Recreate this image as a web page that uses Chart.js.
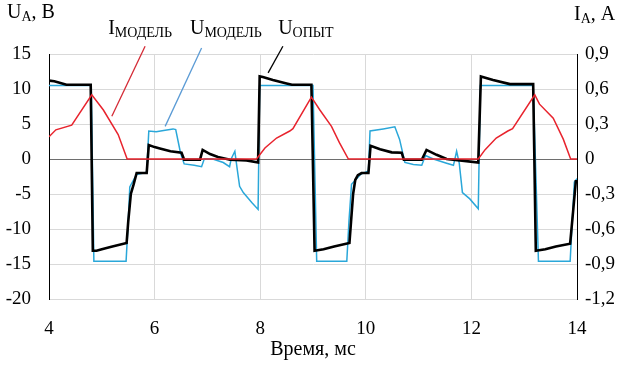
<!DOCTYPE html>
<html>
<head>
<meta charset="utf-8">
<script src="https://cdn.jsdelivr.net/npm/chart.js@4"></script>
<style>
  html, body { margin: 0; padding: 0; background: #fff; }
  #wrap { width: 624px; height: 371px; }
</style>
</head>
<body>
<div id="wrap"><canvas id="chart" width="624" height="371"></canvas></div>
<script>
// Время, мс и напряжение/ток
var tOpyt = [4.0, 4.1, 4.2, 4.33, 4.79, 4.83, 4.9, 5.0, 5.2, 5.47, 5.5, 5.55, 5.6, 5.66, 5.85, 5.89, 6.0, 6.1, 6.3, 6.51, 6.56, 6.86, 6.91, 7.05, 7.2, 7.43, 7.74, 7.96, 7.99, 8.05, 8.24, 8.5, 8.6, 8.97, 9.03, 9.2, 9.4, 9.69, 9.72, 9.76, 9.8, 9.85, 9.92, 10.05, 10.09, 10.27, 10.49, 10.68, 10.72, 11.06, 11.15, 11.34, 11.53, 11.78, 12.13, 12.18, 12.41, 12.73, 13.17, 13.22, 13.4, 13.6, 13.87, 13.92, 13.98];
var uOpyt = [11.2, 11.1, 10.9, 10.6, 10.6, -13.1, -13.1, -12.9, -12.5, -12.0, -9.0, -5.0, -3.7, -2.0, -2.0, 2.0, 1.7, 1.5, 1.1, 0.9, -0.1, -0.1, 1.3, 0.7, 0.3, -0.1, -0.2, -0.5, 11.8, 11.7, 11.3, 10.8, 10.6, 10.6, -13.1, -12.9, -12.5, -12.0, -9.0, -5.0, -3.0, -2.3, -2.0, -2.0, 1.9, 1.4, 0.95, 0.9, -0.1, -0.1, 1.3, 0.6, 0.0, -0.2, -0.5, 11.8, 11.3, 10.7, 10.7, -13.1, -12.9, -12.5, -12.1, -8.0, -3.0];

var tModel = [4.0, 4.8, 4.85, 5.46, 5.5, 5.53, 5.6, 5.66, 5.85, 5.89, 6.03, 6.2, 6.35, 6.4, 6.49, 6.56, 6.75, 6.89, 6.94, 7.1, 7.3, 7.42, 7.45, 7.52, 7.56, 7.61, 7.68, 7.84, 7.96, 7.99, 9.0, 9.07, 9.64, 9.68, 9.73, 9.9, 10.05, 10.08, 10.33, 10.55, 10.64, 10.74, 10.9, 11.06, 11.13, 11.28, 11.53, 11.66, 11.72, 11.77, 11.83, 11.97, 12.13, 12.17, 13.17, 13.27, 13.87, 13.95, 14.0];
var uModel = [10.5, 10.5, -14.6, -14.6, -9.0, -4.0, -3.0, -2.2, -1.9, 4.0, 3.9, 4.1, 4.3, 4.2, 0.9, -0.7, -0.9, -1.1, 0.0, 0.0, -0.5, -1.1, 0.0, 1.1, -1.2, -3.9, -4.8, -6.2, -7.2, 10.5, 10.5, -14.6, -14.6, -9.0, -3.6, -2.2, -1.7, 4.0, 4.3, 4.6, 2.8, -0.5, -0.8, -0.9, 0.5, 0.0, -0.6, -0.9, 1.1, -0.6, -4.8, -5.7, -7.1, 10.5, 10.5, -14.6, -14.6, -3.3, -2.8];

var tTok = [4.0, 4.13, 4.43, 4.81, 5.03, 5.31, 5.48, 7.93, 8.09, 8.31, 8.56, 8.62, 8.97, 9.13, 9.35, 9.5, 9.67, 12.13, 12.26, 12.47, 12.69, 12.78, 13.2, 13.29, 13.55, 13.74, 13.88, 14.0];
var iModel = [0.19, 0.25, 0.29, 0.55, 0.42, 0.21, 0.0, 0.0, 0.094, 0.18, 0.24, 0.26, 0.53, 0.42, 0.28, 0.14, 0.0, 0.0, 0.08, 0.18, 0.24, 0.26, 0.55, 0.47, 0.35, 0.17, 0.0, 0.0];

var xTicks = [4, 6, 8, 10, 12, 14];

// подписи кривых: [буква, индекс, цвет выноски, начало выноски, конец выноски, x подписи]
var labels = [
  ['I', 'МОДЕЛЬ', '#d42a35', [5.19, 6.1], [5.82, 16.1], 5.12],
  ['U', 'МОДЕЛЬ', '#5b9bd5', [6.2, 4.66], [6.89, 15.86], 6.67],
  ['U', 'ОПЫТ', '#000000', [8.15, 12.3], [8.43, 16.1], 8.34]
];

var toPoints = (xs, ys) => xs.map((x, i) => ({ x: x, y: ys[i] }));

var serif = '"Liberation Serif", "Times New Roman", Tinos, "DejaVu Serif", serif';

var annotPlugin = {
  id: 'annot',
  afterDatasetsDraw: (chart) => {
    var ctx = chart.ctx;
    var sx = chart.scales.x, sy = chart.scales.y;
    ctx.save();
    labels.forEach((l) => {
      ctx.strokeStyle = l[2];
      ctx.lineWidth = 1.3;
      ctx.beginPath();
      ctx.moveTo(sx.getPixelForValue(l[3][0]), sy.getPixelForValue(l[3][1]));
      ctx.lineTo(sx.getPixelForValue(l[4][0]), sy.getPixelForValue(l[4][1]));
      ctx.stroke();
    });
    ctx.restore();
  },
  afterDraw: (chart) => {
    var ctx = chart.ctx;
    var sx = chart.scales.x;
    ctx.save();
    ctx.fillStyle = '#000';
    ctx.textBaseline = 'alphabetic';
    var subText = (x, base, big, small, rest) => {
      ctx.font = '20px ' + serif;
      ctx.fillText(big, x, base);
      x += ctx.measureText(big).width;
      ctx.font = '14px ' + serif;
      ctx.fillText(small, x, base + 3);
      x += ctx.measureText(small).width;
      if (rest) {
        ctx.font = '20px ' + serif;
        ctx.fillText(rest, x, base);
      }
    };
    labels.forEach((l) => {
      subText(sx.getPixelForValue(l[5]), 34, l[0], l[1], '');
    });
    // подписи осей
    subText(7, 18, 'U', 'A', ', B');
    subText(574, 20, 'I', 'A', ', A');
    ctx.restore();
  }
};

var fmtI = (v) => {
  if (Math.abs(v) < 1e-9) return '0';
  return v.toFixed(1).replace('.', ',');
};

var config = {
  type: 'line',
  data: {
    datasets: [
      { label: 'Iмодель', data: toPoints(tTok, iModel), yAxisID: 'y1', borderColor: '#e8232d', borderWidth: 1.5, pointRadius: 0, tension: 0 },
      { label: 'Uопыт', data: toPoints(tOpyt, uOpyt), yAxisID: 'y', borderColor: '#000000', borderWidth: 2.6, pointRadius: 0, tension: 0 },
      { label: 'Uмодель', data: toPoints(tModel, uModel), yAxisID: 'y', borderColor: '#2aa7d9', borderWidth: 1.5, pointRadius: 0, tension: 0 }
    ]
  },
  options: {
    responsive: false,
    animation: false,
    layout: { padding: { top: 54, left: 0, right: 0, bottom: 0 } },
    plugins: { legend: { display: false }, tooltip: { enabled: false } },
    scales: {
      x: {
        type: 'linear',
        min: 4, max: 14,
        afterBuildTicks: (s) => { s.ticks = xTicks.map((v) => ({ value: v })); },
        afterFit: (s) => { s.height = 72; },
        grid: { color: '#d9d9d9', drawTicks: false, lineWidth: 1 },
        border: { color: '#d9d9d9' },
        ticks: { padding: 19, color: '#000', font: { family: serif, size: 19 } },
        title: { display: true, text: 'Время, мс', color: '#000', font: { family: serif, size: 20 }, padding: { top: 0, bottom: 9 } }
      },
      y: {
        position: 'left',
        min: -20, max: 15,
        ticks: { stepSize: 5, padding: 18, color: '#000', font: { family: serif, size: 19 }, callback: (v) => String(v) },
        afterFit: (s) => { s.width = 49; },
        grid: { drawTicks: false, color: (c) => (c.tick && c.tick.value === 0 ? '#6e6e6e' : '#d9d9d9') },
        border: { color: '#000', width: 1 }
      },
      y1: {
        position: 'right',
        min: -1.2, max: 0.9,
        ticks: { stepSize: 0.3, padding: 8, color: '#000', font: { family: serif, size: 19 }, callback: fmtI },
        afterFit: (s) => { s.width = 47; },
        grid: { display: false, drawTicks: false },
        border: { color: '#000', width: 1 }
      }
    }
  },
  plugins: [annotPlugin]
};

var chart = new Chart(document.getElementById('chart').getContext('2d'), config);
</script>
</body>
</html>
